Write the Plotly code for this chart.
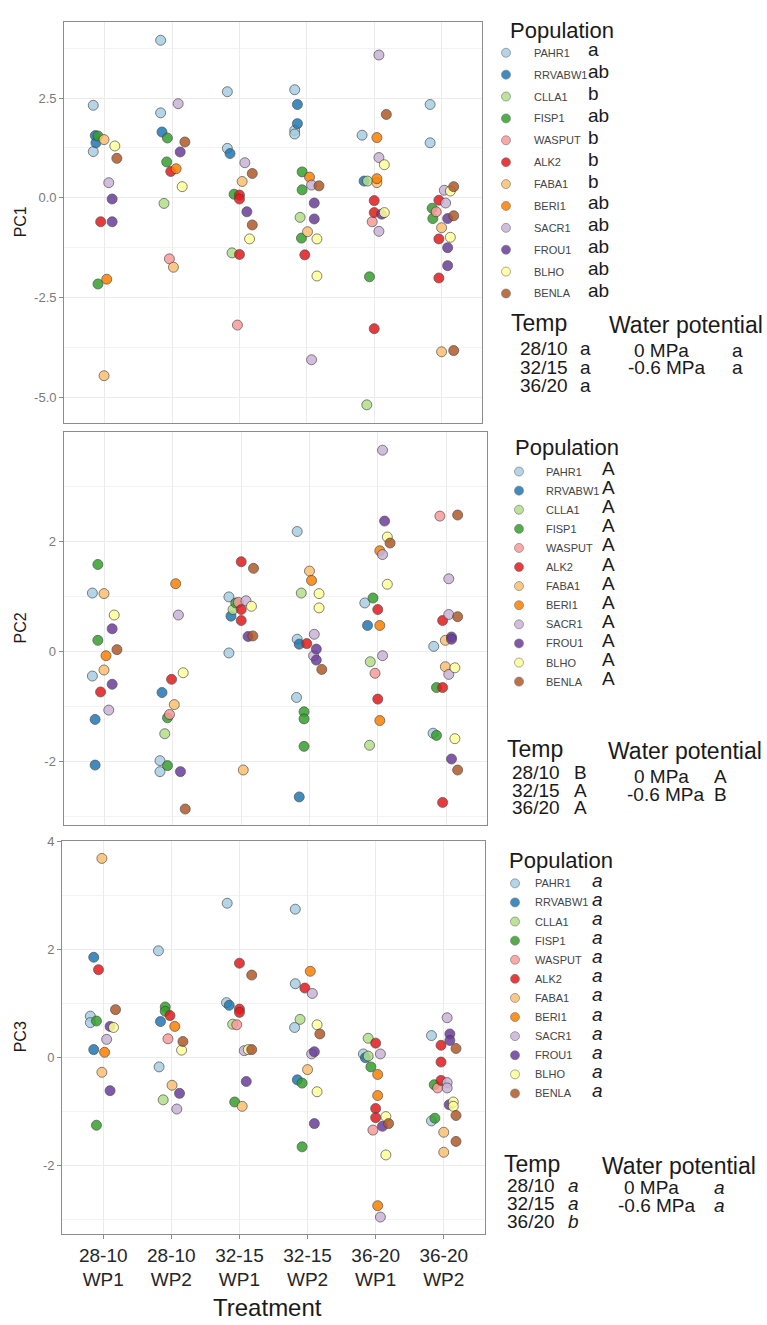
import plotly.graph_objects as go

# ---------------------------------------------------------------- data
treatments = ["28-10<br>WP1", "28-10<br>WP2", "32-15<br>WP1",
              "32-15<br>WP2", "36-20<br>WP1", "36-20<br>WP2"]
populations = ["PAHR1", "RRVABW1", "CLLA1", "FISP1", "WASPUT", "ALK2",
               "FABA1", "BERI1", "SACR1", "FROU1", "BLHO", "BENLA"]
pop_colors = ["#A6CEE3", "#1F78B4", "#B2DF8A", "#33A02C", "#FB9A99", "#E31A1C",
              "#FDBF6F", "#FF7F00", "#CAB2D6", "#6A3D9A", "#FFFF99", "#B15928"]

# PC1 scores (population, treatment index, score) with horizontal jitter
pc1_pop = ["PAHR1", "PAHR1", "RRVABW1", "RRVABW1", "FISP1", "FABA1", "BLHO", "BENLA", "SACR1", "FROU1", "ALK2", "FROU1", "FISP1", "BERI1", "FABA1",
           "PAHR1", "PAHR1", "SACR1", "RRVABW1", "FISP1", "BENLA", "FROU1", "FISP1", "BERI1", "ALK2", "BLHO", "CLLA1", "WASPUT", "FABA1",
           "PAHR1", "PAHR1", "RRVABW1", "SACR1", "BENLA", "FABA1", "FISP1", "ALK2", "ALK2", "FROU1", "BENLA", "BLHO", "CLLA1", "ALK2", "WASPUT",
           "PAHR1", "RRVABW1", "RRVABW1", "PAHR1", "PAHR1", "FISP1", "BERI1", "SACR1", "BENLA", "FISP1", "FROU1", "CLLA1", "FROU1", "FABA1", "FISP1", "BLHO", "ALK2", "BLHO", "SACR1",
           "SACR1", "BENLA", "PAHR1", "BERI1", "SACR1", "BLHO", "RRVABW1", "CLLA1", "BERI1", "FABA1", "ALK2", "ALK2", "FROU1", "BLHO", "WASPUT", "SACR1", "FISP1", "ALK2", "CLLA1",
           "PAHR1", "PAHR1", "SACR1", "BLHO", "BENLA", "ALK2", "SACR1", "FISP1", "WASPUT", "FROU1", "BENLA", "FISP1", "FABA1", "ALK2", "BLHO", "FROU1", "FROU1", "ALK2", "FABA1", "BENLA"]
pc1_trt = [1] * 15 + [2] * 14 + [3] * 15 + [4] * 19 + [5] * 19 + [6] * 20
pc1_score = [2.32, 1.16, 1.56, 1.38, 1.55, 1.46, 1.30, 0.99, 0.38, -0.03, -0.60, -0.60, -2.16, -2.04, -4.46,
             3.95, 2.13, 2.36, 1.65, 1.50, 1.40, 1.15, 0.90, 0.73, 0.66, 0.28, -0.14, -1.53, -1.74,
             2.66, 1.24, 1.11, 0.88, 0.61, 0.41, 0.09, 0.07, -0.03, -0.35, -0.68, -1.03, -1.38, -1.42, -3.19,
             2.71, 2.34, 1.86, 1.69, 1.60, 0.65, 0.52, 0.32, 0.30, 0.20, -0.13, -0.49, -0.53, -0.85, -1.01, -1.03, -1.43, -1.96, -4.06,
             3.58, 2.09, 1.57, 1.51, 1.01, 0.83, 0.42, 0.42, 0.48, 0.38, -0.07, -0.37, -0.41, -0.37, -0.60, -0.84, -1.98, -3.28, -5.19,
             2.34, 1.38, 0.19, 0.17, 0.28, -0.06, -0.13, -0.26, -0.35, -0.52, -0.45, -0.52, -0.75, -1.03, -0.99, -1.25, -1.70, -2.01, -3.86, -3.83]
pc1_jitter = [-0.17, -0.17, -0.14, -0.13, -0.10, -0.01, 0.15, 0.18, 0.06, 0.11, -0.06, 0.11, -0.10, 0.03, -0.01,
              -0.17, -0.17, 0.09, -0.15, -0.07, 0.19, 0.12, -0.08, 0.06, -0.02, 0.15, -0.12, -0.04, 0.02,
              -0.18, -0.18, -0.14, 0.08, 0.19, 0.04, -0.08, 0.0, 0.0, 0.11, 0.19, 0.15, -0.11, 0.0, -0.03,
              -0.18, -0.14, -0.14, -0.18, -0.18, -0.07, 0.04, 0.07, 0.18, -0.07, 0.11, -0.10, 0.11, 0.01, -0.08, 0.15, -0.03, 0.15, 0.07,
              0.07, 0.18, -0.18, 0.04, 0.07, 0.15, -0.15, -0.10, 0.04, 0.04, 0.0, 0.0, 0.11, 0.15, -0.03, 0.07, -0.07, 0.0, -0.11,
              -0.17, -0.17, 0.04, 0.13, 0.18, -0.04, 0.06, -0.14, -0.08, 0.09, 0.18, -0.13, 0.0, -0.04, 0.13, 0.09, 0.09, -0.04, 0.0, 0.18]

# PC2 scores
pc2_pop = ["FISP1", "PAHR1", "FABA1", "BLHO", "FROU1", "FISP1", "BENLA", "BERI1", "FABA1", "PAHR1", "FROU1", "ALK2", "SACR1", "RRVABW1", "RRVABW1",
           "BERI1", "SACR1", "BLHO", "ALK2", "RRVABW1", "FABA1", "WASPUT", "FISP1", "CLLA1", "PAHR1", "FISP1", "PAHR1", "FROU1", "BENLA",
           "ALK2", "BENLA", "PAHR1", "FISP1", "WASPUT", "SACR1", "BLHO", "CLLA1", "ALK2", "RRVABW1", "ALK2", "FROU1", "BENLA", "PAHR1", "FABA1",
           "PAHR1", "FABA1", "BERI1", "CLLA1", "BLHO", "BLHO", "SACR1", "PAHR1", "RRVABW1", "ALK2", "FROU1", "SACR1", "FROU1", "BENLA", "PAHR1", "FISP1", "FISP1", "FISP1", "RRVABW1",
           "SACR1", "FROU1", "BLHO", "BENLA", "BERI1", "SACR1", "BLHO", "FISP1", "PAHR1", "ALK2", "RRVABW1", "BERI1", "SACR1", "CLLA1", "WASPUT", "ALK2", "BERI1", "CLLA1",
           "BENLA", "WASPUT", "SACR1", "SACR1", "BENLA", "ALK2", "FROU1", "FROU1", "FABA1", "PAHR1", "FABA1", "BLHO", "SACR1", "FISP1", "ALK2", "PAHR1", "FISP1", "BLHO", "FROU1", "BENLA", "ALK2"]
pc2_trt = [1] * 15 + [2] * 14 + [3] * 15 + [4] * 19 + [5] * 18 + [6] * 21
pc2_score = [1.58, 1.06, 1.05, 0.66, 0.41, 0.20, 0.03, -0.08, -0.34, -0.45, -0.60, -0.74, -1.07, -1.24, -2.07,
             1.23, 0.66, -0.39, -0.51, -0.75, -0.97, -1.15, -1.21, -1.50, -1.99, -2.08, -2.19, -2.19, -2.87,
             1.63, 1.51, 0.99, 0.88, 0.89, 0.92, 0.82, 0.76, 0.76, 0.64, 0.56, 0.27, 0.28, -0.03, -2.16,
             2.18, 1.46, 1.29, 1.06, 1.05, 0.79, 0.31, 0.22, 0.13, 0.14, 0.04, -0.08, -0.16, -0.33, -0.84, -1.10, -1.23, -1.73, -2.65,
             3.66, 2.37, 2.08, 1.97, 1.83, 1.76, 1.22, 0.97, 0.88, 0.76, 0.47, 0.47, -0.08, -0.19, -0.40, -0.87, -1.26, -1.71,
             2.48, 2.46, 1.32, 0.67, 0.63, 0.56, 0.26, 0.22, 0.20, 0.09, -0.28, -0.30, -0.42, -0.66, -0.66, -1.49, -1.53, -1.59, -1.96, -2.16, -2.75]
pc2_jitter = [-0.10, -0.18, -0.01, 0.14, 0.11, -0.10, 0.18, 0.02, -0.01, -0.18, 0.11, -0.06, 0.06, -0.14, -0.14,
              0.04, 0.08, 0.15, -0.02, -0.16, 0.02, -0.05, -0.08, -0.12, -0.19, -0.08, -0.19, 0.11, 0.18,
              0.0, 0.18, -0.18, -0.08, -0.04, 0.07, 0.15, -0.12, 0.0, -0.15, 0.0, 0.10, 0.17, -0.18, 0.03,
              -0.18, 0.0, 0.03, -0.12, 0.14, 0.14, 0.07, -0.18, -0.15, -0.04, 0.10, 0.06, 0.10, 0.18, -0.19, -0.08, -0.08, -0.08, -0.15,
              0.07, 0.10, 0.14, 0.18, 0.03, 0.07, 0.14, -0.07, -0.19, 0.0, -0.15, 0.03, 0.07, -0.11, -0.04, 0.0, 0.03, -0.12,
              0.17, -0.09, 0.04, 0.04, 0.17, -0.05, 0.08, 0.08, -0.01, -0.18, -0.01, 0.13, 0.04, -0.14, -0.05, -0.19, -0.14, 0.13, 0.08, 0.17, -0.05]

# PC3 scores
pc3_pop = ["FABA1", "RRVABW1", "ALK2", "BENLA", "PAHR1", "FISP1", "PAHR1", "FROU1", "BLHO", "SACR1", "RRVABW1", "BERI1", "FABA1", "FROU1", "FISP1",
           "PAHR1", "FISP1", "FISP1", "ALK2", "RRVABW1", "BERI1", "WASPUT", "BENLA", "BLHO", "PAHR1", "FABA1", "FROU1", "CLLA1", "SACR1",
           "PAHR1", "ALK2", "BENLA", "PAHR1", "RRVABW1", "ALK2", "ALK2", "CLLA1", "WASPUT", "SACR1", "BLHO", "BENLA", "FROU1", "FISP1", "FABA1",
           "PAHR1", "BERI1", "PAHR1", "ALK2", "SACR1", "CLLA1", "BLHO", "PAHR1", "BENLA", "FROU1", "SACR1", "FABA1", "RRVABW1", "FISP1", "BLHO", "FROU1", "FISP1",
           "CLLA1", "ALK2", "SACR1", "PAHR1", "RRVABW1", "CLLA1", "FISP1", "BERI1", "BERI1", "ALK2", "BLHO", "ALK2", "BENLA", "FROU1", "WASPUT", "BLHO", "BERI1", "SACR1",
           "SACR1", "PAHR1", "FROU1", "FROU1", "ALK2", "BENLA", "ALK2", "ALK2", "SACR1", "FISP1", "WASPUT", "SACR1", "BLHO", "FROU1", "BLHO", "BENLA", "FISP1", "PAHR1", "FABA1", "BENLA", "FABA1"]
pc3_trt = [1] * 15 + [2] * 14 + [3] * 15 + [4] * 17 + [5] * 18 + [6] * 21
pc3_score = [3.68, 1.85, 1.62, 0.88, 0.76, 0.67, 0.64, 0.57, 0.55, 0.33, 0.14, 0.09, -0.28, -0.62, -1.26,
             1.97, 0.93, 0.85, 0.77, 0.66, 0.57, 0.34, 0.29, 0.13, -0.18, -0.52, -0.67, -0.79, -0.96,
             2.85, 1.74, 1.52, 1.01, 0.96, 0.89, 0.83, 0.61, 0.60, 0.12, 0.14, 0.14, -0.45, -0.83, -0.91,
             2.74, 1.59, 1.36, 1.28, 1.18, 0.70, 0.60, 0.55, 0.43, 0.10, 0.06, -0.23, -0.42, -0.48, -0.64, -1.23, -1.66,
             0.35, 0.26, 0.06, 0.06, -0.01, 0.02, -0.18, -0.32, -0.71, -0.95, -1.10, -1.12, -1.23, -1.28, -1.35, -1.81, -2.75, -2.96,
             0.73, 0.40, 0.43, 0.31, 0.22, 0.16, -0.09, -0.43, -0.47, -0.51, -0.57, -0.57, -0.83, -0.88, -0.91, -1.08, -1.13, -1.18, -1.39, -1.56, -1.76]
pc3_jitter = [-0.02, -0.14, -0.07, 0.18, -0.19, -0.10, -0.19, 0.10, 0.15, 0.05, -0.14, 0.02, -0.02, 0.10, -0.10,
              -0.19, -0.09, -0.09, -0.02, -0.16, 0.05, -0.05, 0.17, 0.15, -0.18, 0.01, 0.12, -0.12, 0.08,
              -0.18, 0.0, 0.18, -0.19, -0.15, 0.0, 0.0, -0.10, -0.04, 0.07, 0.13, 0.18, 0.10, -0.07, 0.04,
              -0.18, 0.04, -0.18, -0.04, 0.07, -0.11, 0.14, -0.19, 0.18, 0.10, 0.06, 0.0, -0.15, -0.08, 0.14, 0.10, -0.08,
              -0.11, 0.0, 0.07, -0.18, -0.15, -0.11, -0.07, 0.03, 0.03, 0.0, 0.15, 0.0, 0.19, 0.10, -0.04, 0.15, 0.03, 0.07,
              0.05, -0.18, 0.09, 0.09, -0.04, 0.18, -0.04, -0.04, 0.05, -0.14, -0.09, 0.05, 0.14, 0.08, 0.14, 0.18, -0.13, -0.18, 0.0, 0.18, 0.0]

# y-axis tick labels
pc1_tickvals = [-5.0, -2.5, 0.0, 2.5]
pc1_ticktext = ["-5.0", "-2.5", "0.0", "2.5"]
pc2_tickvals = [-2, 0, 2]
pc2_ticktext = ["-2", "0", "2"]
pc3_tickvals = [-2, 0, 2, 4]
pc3_ticktext = ["-2", "0", "2", "4"]

# significance letters
temp_levels = ["28/10", "32/15", "36/20"]
wp_levels = ["0 MPa", "-0.6 MPa"]
pc1_pop_letters = ["a", "ab", "b", "ab", "b", "b", "b", "ab", "ab", "ab", "ab", "ab"]
pc2_pop_letters = ["A"] * 12
pc3_pop_letters = ["a"] * 12
pc1_temp_letters = ["a", "a", "a"]
pc2_temp_letters = ["B", "A", "A"]
pc3_temp_letters = ["a", "a", "b"]
pc1_wp_letters = ["a", "a"]
pc2_wp_letters = ["A", "B"]
pc3_wp_letters = ["a", "a"]

# ---------------------------------------------------------------- layout
W, H = 767, 1325
FONT = "Liberation Sans, Arial, sans-serif"
GRID = "#ebebeb"
MINOR = "#f3f3f3"
BORDER = "#8c8c8c"

panels = [
    dict(x="x", y="y", px=(64.3, 482.0), py=(15.0, 418.0), yr=(-5.64, 4.41),
         tv=pc1_tickvals, tt=pc1_ticktext, minor=[-3.75, -1.25, 1.25, 3.75],
         pop=pc1_pop, trt=pc1_trt, score=pc1_score, jit=pc1_jitter, title="PC1"),
    dict(x="x2", y="y2", px=(63.7, 487.0), py=(427.3, 822.3), yr=(-3.16, 3.99),
         tv=pc2_tickvals, tt=pc2_ticktext, minor=[-3, -1, 1, 3],
         pop=pc2_pop, trt=pc2_trt, score=pc2_score, jit=pc2_jitter, title="PC2"),
    dict(x="x3", y="y3", px=(62.4, 484.6), py=(838.3, 1233.3), yr=(-3.27, 4.005),
         tv=pc3_tickvals, tt=pc3_ticktext, minor=[-3, -1, 1, 3],
         pop=pc3_pop, trt=pc3_trt, score=pc3_score, jit=pc3_jitter, title="PC3"),
]

fig = go.Figure()

for k, p in enumerate(panels):
    for ci, name in enumerate(populations):
        idx = [i for i, q in enumerate(p["pop"]) if q == name]
        if not idx:
            continue
        fig.add_trace(go.Scatter(
            x=[p["trt"][i] + p["jit"][i] for i in idx],
            y=[p["score"][i] for i in idx],
            mode="markers", name=name, showlegend=False,
            xaxis=p["x"], yaxis=p["y"],
            marker=dict(color=pop_colors[ci], size=10, opacity=0.85,
                        line=dict(color="rgba(60,60,60,0.75)", width=1)),
        ))

    suffix = "" if k == 0 else str(k + 1)
    last = k == 2
    fig.update_layout(**{
        "xaxis" + suffix: dict(
            domain=[p["px"][0] / W, p["px"][1] / W], anchor=p["y"],
            range=[0.4, 6.6], tickvals=[1, 2, 3, 4, 5, 6],
            ticktext=treatments if last else [""] * 6,
            showticklabels=last, ticks="outside" if last else "",
            ticklen=4, tickcolor=BORDER, tickwidth=1,
            tickfont=dict(family=FONT, size=19, color="#262626"),
            showgrid=True, gridcolor=GRID, gridwidth=1, zeroline=False,
            showline=True, mirror=True, linecolor=BORDER, linewidth=1.4,
        ),
        "yaxis" + suffix: dict(
            domain=[1 - p["py"][1] / H, 1 - p["py"][0] / H], anchor=p["x"],
            range=list(p["yr"]), tickvals=p["tv"], ticktext=p["tt"],
            ticks="outside", ticklen=4, tickcolor=BORDER, tickwidth=1,
            tickfont=dict(family=FONT, size=13, color="#7a7a7a"),
            showgrid=True, gridcolor=GRID, gridwidth=1, zeroline=False,
            minor=dict(tickvals=p["minor"], showgrid=True, gridcolor=MINOR, gridwidth=0.7),
            showline=True, mirror=True, linecolor=BORDER, linewidth=1.4,
        ),
    })

# full-figure pixel canvas for the side legends and titles
fig.update_layout(
    xaxis4=dict(domain=[0, 1], range=[0, W], visible=False, anchor="y4", fixedrange=True),
    yaxis4=dict(domain=[0, 1], range=[H, 0], visible=False, anchor="x4", fixedrange=True),
)

annotations = []


def text(x, y, s, size, color="#1a1a1a", anchor="left", angle=0, italic=False):
    annotations.append(dict(
        x=x, y=y, xref="x4", yref="y4", text=s, showarrow=False,
        xanchor=anchor, yanchor="middle", textangle=angle,
        font=dict(family=FONT, size=size, color=color,
                  style="italic" if italic else "normal"),
    ))


legends = [
    dict(title=(508, 24), key_x=506, lab_x=532, row0=46, step=22.0,
         let_x=586, letters=pc1_pop_letters, italic=False,
         temp_title=(509, 318), temp_x=518, temp_y0=343, temp_step=19.0,
         temp_let_x=578, temp_letters=pc1_temp_letters,
         wp_title=(607, 320), wp_x=[632, 626], wp_y0=345, wp_step=17.0,
         wp_let_x=730, wp_letters=pc1_wp_letters),
    dict(title=(513, 443), key_x=519, lab_x=544, row0=467, step=19.2,
         let_x=600, letters=pc2_pop_letters, italic=False,
         temp_title=(505, 746), temp_x=510, temp_y0=770, temp_step=17.5,
         temp_let_x=572, temp_letters=pc2_temp_letters,
         wp_title=(606, 748), wp_x=[632, 625], wp_y0=774, wp_step=17.5,
         wp_let_x=712, wp_letters=pc2_wp_letters),
    dict(title=(507, 858), key_x=515, lab_x=533, row0=881, step=19.2,
         let_x=590, letters=pc3_pop_letters, italic=True,
         temp_title=(502, 1163), temp_x=505, temp_y0=1185, temp_step=18,
         temp_let_x=566, temp_letters=pc3_temp_letters,
         wp_title=(600, 1165), wp_x=[622, 616], wp_y0=1187, wp_step=18,
         wp_let_x=712, wp_letters=pc3_wp_letters),
]

for p, lg in zip(panels, legends):
    rows = [lg["row0"] + i * lg["step"] for i in range(len(populations))]
    fig.add_trace(go.Scatter(
        x=[lg["key_x"]] * len(populations), y=rows, mode="markers",
        xaxis="x4", yaxis="y4", showlegend=False, hoverinfo="skip",
        marker=dict(color=pop_colors, size=9, opacity=0.85,
                    line=dict(color="rgba(90,90,90,0.6)", width=1)),
    ))
    text(lg["title"][0], lg["title"][1], "Population", 22)
    for i, name in enumerate(populations):
        text(lg["lab_x"], rows[i], name, 11, color="#444444")
        text(lg["let_x"], rows[i] - 3, lg["letters"][i], 19, italic=lg["italic"])
    text(lg["temp_title"][0], lg["temp_title"][1], "Temp", 23)
    for i, t in enumerate(temp_levels):
        y = lg["temp_y0"] + i * lg["temp_step"]
        text(lg["temp_x"], y, t, 19)
        text(lg["temp_let_x"], y, lg["temp_letters"][i], 19, italic=lg["italic"])
    text(lg["wp_title"][0], lg["wp_title"][1], "Water potential", 23)
    for i, w in enumerate(wp_levels):
        y = lg["wp_y0"] + i * lg["wp_step"]
        text(lg["wp_x"][i], y, w, 19)
        text(lg["wp_let_x"], y, lg["wp_letters"][i], 19, italic=lg["italic"])
    # y-axis title
    text(20, (p["py"][0] + p["py"][1]) / 2, p["title"], 16, anchor="center", angle=-90)

text(267, 1307, "Treatment", 24, anchor="center")

fig.update_layout(
    width=W, height=H, margin=dict(l=0, r=0, t=0, b=0),
    paper_bgcolor="white", plot_bgcolor="rgba(0,0,0,0)",
    showlegend=False, annotations=annotations,
    font=dict(family=FONT),
)

fig.write_html("out.html")
